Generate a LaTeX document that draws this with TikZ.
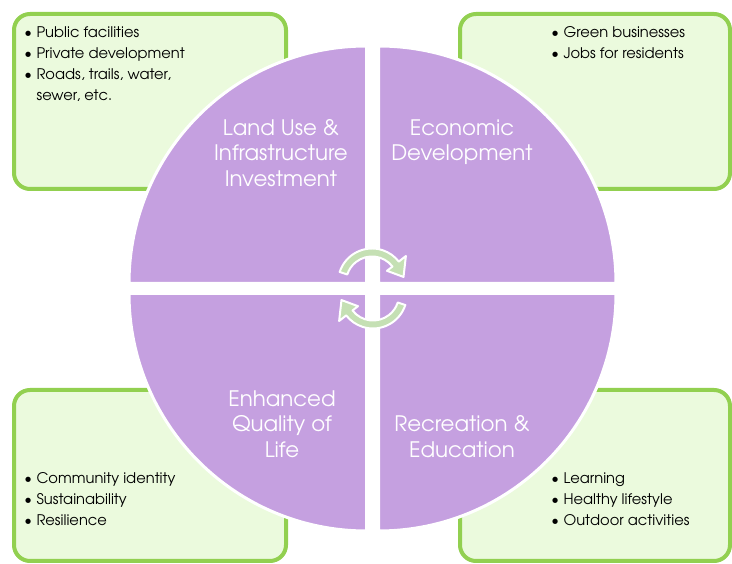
\documentclass[tikz,border=0pt]{standalone}
\usepackage{fontspec}
\setmainfont{TeX Gyre Adventor}
\definecolor{quadpurple}{RGB}{197,160,224}
\definecolor{boxgreen}{RGB}{146,208,80}
\definecolor{boxfill}{RGB}{235,250,221}
\definecolor{arrowgreen}{RGB}{197,224,180}
\tikzset{
  notebox/.style={draw=boxgreen, fill=boxfill, line width=3pt, rounded corners=12pt},
  quad/.style={fill=quadpurple, draw=white, line width=2.25pt},
  quadlabel/.style={text=white, align=center, inner sep=0pt, font=\fontsize{16}{19}\selectfont},
  bullets/.style={anchor=base west, inner sep=0pt, font=\fontsize{11}{15.75}\selectfont},
  turn/.style={fill=arrowgreen, draw=white, line width=1.5pt, line join=round}
}
\newcommand{\bl}{\textbullet}
\begin{document}
\begin{tikzpicture}[x=0.75pt,y=0.75pt]
  \useasboundingbox (0,0) rectangle (732,564);
  % note boxes
  \draw [notebox] (14,375) rectangle (286,550);
  \draw [notebox] (460,375) rectangle (730,550);
  \draw [notebox] (14,3) rectangle (286,174);
  \draw [notebox] (460,3) rectangle (730,174);
  \node [bullets] (landnotes) at (24,526.3) {\begin{tabular}[t]{@{}l@{\hspace{3.5pt}}l@{}}
      \bl & Public facilities\\
      \bl & Private development\\
      \bl & Roads, trails, water,\\
          & sewer, etc.
    \end{tabular}};
  \node [bullets] (econnotes) at (551,526.3) {\begin{tabular}[t]{@{}l@{\hspace{3.5pt}}l@{}}
      \bl & Green businesses\\
      \bl & Jobs for residents
    \end{tabular}};
  \node [bullets] (lifenotes) at (24,80.7) {\begin{tabular}[t]{@{}l@{\hspace{3.5pt}}l@{}}
      \bl & Community identity\\
      \bl & Sustainability\\
      \bl & Resilience
    \end{tabular}};
  \node [bullets] (recnotes) at (551,80.7) {\begin{tabular}[t]{@{}l@{\hspace{3.5pt}}l@{}}
      \bl & Learning\\
      \bl & Healthy lifestyle\\
      \bl & Outdoor activities
    \end{tabular}};
  % quadrants
  \draw [quad] (366.5,280.5) -- ++(-237.5,0) arc[start angle=180, end angle=90, radius=237.5] -- cycle;
  \draw [quad] (378.5,280.5) -- ++(0,237.5) arc[start angle=90, end angle=0, radius=237.5] -- cycle;
  \draw [quad] (366.5,270.5) -- ++(0,-237.5) arc[start angle=270, end angle=180, radius=237.5] -- cycle;
  \draw [quad] (378.5,270.5) -- ++(237.5,0) arc[start angle=0, end angle=-90, radius=237.5] -- cycle;
  \node [quadlabel] (landuse) at (281,411) {Land Use \&\\Infrastructure\\Investment};
  \node [quadlabel] (econdev) at (462,421.5) {Economic\\Development};
  \node [quadlabel] (quality) at (282,140) {Enhanced\\Quality of\\Life};
  \node [quadlabel] (recreation) at (462,127.5) {Recreation \&\\Education};
  % cycle arrows
  \coordinate (tc) at (372,281.5);
  \coordinate (bc) at (373,269.5);
  \draw [turn] ([shift={(162:34)}]tc) arc[start angle=162, end angle=38, radius=34]
    -- ([shift={(38:43)}]tc) -- ([shift={(10:32)}]tc) -- ([shift={(38:19)}]tc)
    -- ([shift={(38:26)}]tc) arc[start angle=38, end angle=162, radius=26] -- cycle;
  \draw [turn] ([shift={(342:34)}]bc) arc[start angle=342, end angle=218, radius=34]
    -- ([shift={(218:43)}]bc) -- ([shift={(190:32)}]bc) -- ([shift={(218:19)}]bc)
    -- ([shift={(218:26)}]bc) arc[start angle=218, end angle=342, radius=26] -- cycle;
\end{tikzpicture}
\end{document}
